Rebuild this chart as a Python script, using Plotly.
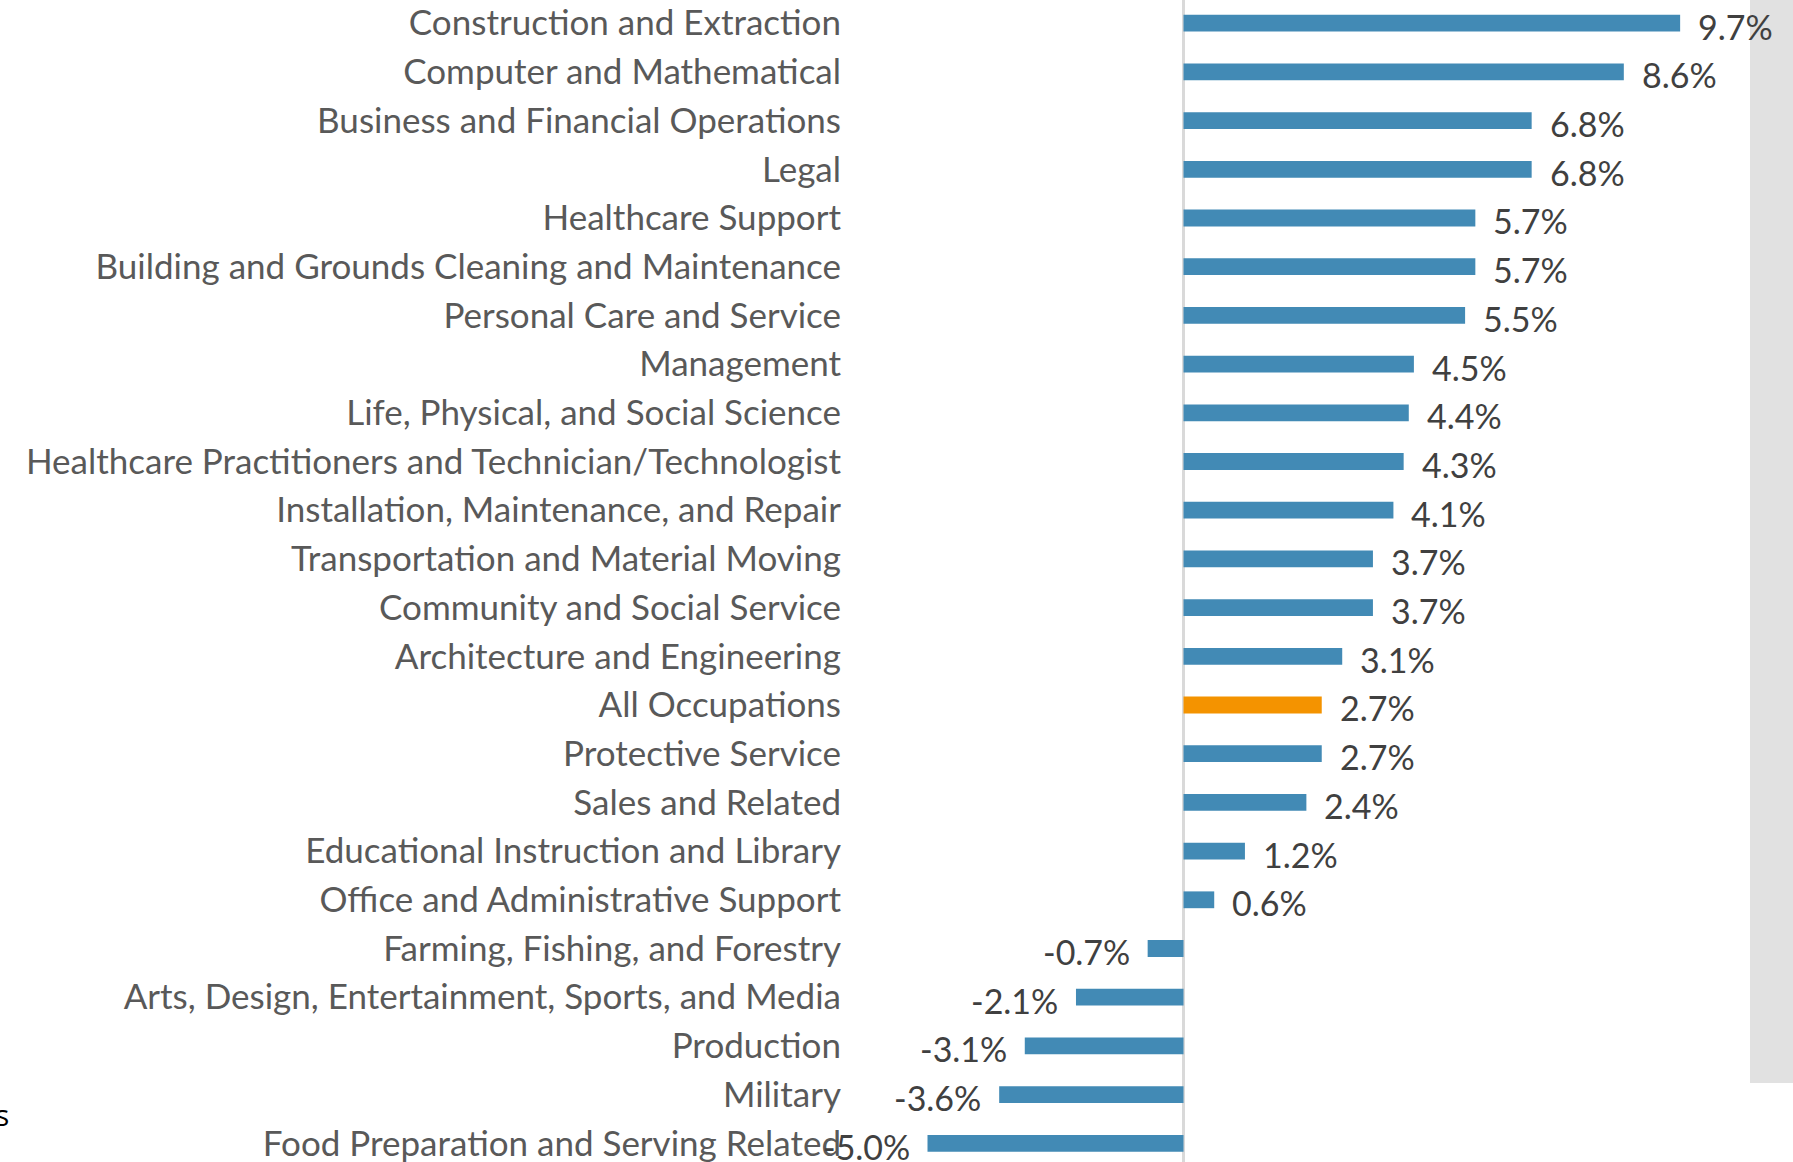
import plotly.graph_objects as go

categories = [
    "Construction and Extraction",
    "Computer and Mathematical",
    "Business and Financial Operations",
    "Legal",
    "Healthcare Support",
    "Building and Grounds Cleaning and Maintenance",
    "Personal Care and Service",
    "Management",
    "Life, Physical, and Social Science",
    "Healthcare Practitioners and Technician/Technologist",
    "Installation, Maintenance, and Repair",
    "Transportation and Material Moving",
    "Community and Social Service",
    "Architecture and Engineering",
    "All Occupations",
    "Protective Service",
    "Sales and Related",
    "Educational Instruction and Library",
    "Office and Administrative Support",
    "Farming, Fishing, and Forestry",
    "Arts, Design, Entertainment, Sports, and Media",
    "Production",
    "Military",
    "Food Preparation and Serving Related",
]
values = [9.7, 8.6, 6.8, 6.8, 5.7, 5.7, 5.5, 4.5, 4.4, 4.3, 4.1, 3.7, 3.7, 3.1,
          2.7, 2.7, 2.4, 1.2, 0.6, -0.7, -2.1, -3.1, -3.6, -5.0]
highlight = "All Occupations"

W, H = 1793, 1162
BLUE = "#428AB5"
ORANGE = "#F49300"
plot_left_px = 852
zero_px = 1183.5
px_per_unit = 51.2

colors = [ORANGE if c == highlight else BLUE for c in categories]

fig = go.Figure()
fig.add_trace(go.Bar(
    x=values, y=categories, orientation="h",
    marker=dict(color=colors, line=dict(width=0)),
    width=0.345, hoverinfo="skip",
))

for c, v in zip(categories, values):
    fig.add_annotation(
        x=v, y=c, xref="x", yref="y",
        text=f"{v:.1f}%", showarrow=False,
        xanchor="left" if v >= 0 else "right",
        xshift=16 if v >= 0 else -16, yshift=-3,
        font=dict(family="Lato", size=34, color="#404040"),
    )

# cropped stray text at the bottom-left
fig.add_annotation(x=0, y=(H - 1137) / H, xref="paper", yref="paper",
                   text="s", showarrow=False, xanchor="left", xshift=-7,
                   font=dict(family="Open Sans", size=30, color="#000000"))

# gray panel at the right edge
fig.add_shape(type="rect", xref="paper", yref="paper",
              x0=1750 / W, x1=1.0, y0=(H - 1083) / H, y1=1.0,
              fillcolor="#E1E1E1", line=dict(width=0), layer="below")

xmin = -(zero_px - plot_left_px) / px_per_unit
xmax = (W - zero_px) / px_per_unit

fig.update_layout(
    width=W, height=H,
    margin=dict(l=0, r=0, t=0, b=0, autoexpand=False),
    paper_bgcolor="white", plot_bgcolor="rgba(0,0,0,0)",
    showlegend=False,
    xaxis=dict(domain=[plot_left_px / W, 1], range=[xmin, xmax],
               showgrid=False, showticklabels=False, ticks="",
               zeroline=True, zerolinecolor="#D9D9D9", zerolinewidth=2.5,
               showline=False, fixedrange=True),
    yaxis=dict(range=[23.384, -0.476], showgrid=False, ticks="",
               showline=False, zeroline=False, automargin=False,
               tickfont=dict(family="Lato", size=35, color="#595959"),
               ticklabelstandoff=10, fixedrange=True),
)

fig.write_html(
    "out.html",
    config={"displayModeBar": False},
    post_script="document.body.style.margin='0';document.body.style.overflow='hidden';",
)
